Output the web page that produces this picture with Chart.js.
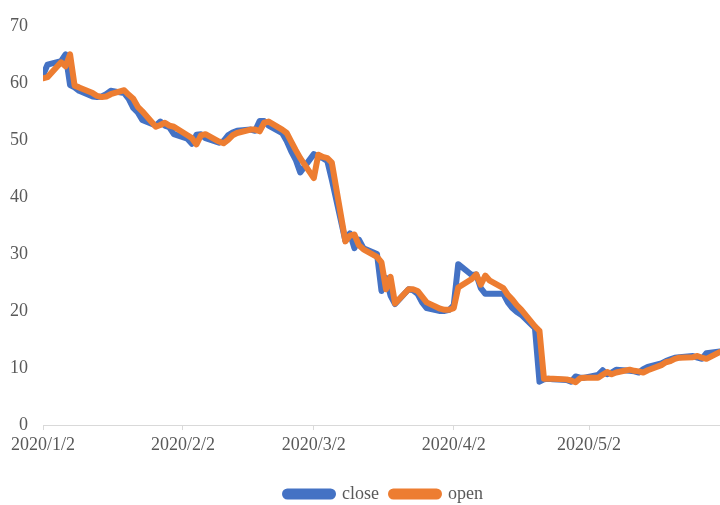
<!DOCTYPE html>
<html>
<head>
<meta charset="utf-8">
<script src="https://cdn.jsdelivr.net/npm/chart.js@4/dist/chart.umd.min.js"></script>
<style>
  html, body { margin: 0; padding: 0; background: #fff; }
  #wrap { width: 720px; height: 505px; }
</style>
</head>
<body>
<div id="wrap"><canvas id="chart-price"></canvas></div>
<script>
// trading days, counted in days since 2020/1/2
const tradeDays = [
  0, 1,
  4, 5, 6, 7, 8,
  11, 12, 13, 14, 15,
  18, 19, 20, 21, 22,
  25, 26, 27, 28, 29,
  32, 33, 34, 35, 36,
  39, 40, 41, 42, 43,
  46, 47, 48, 49, 50,
  53, 54, 55, 56, 57,
  60, 61, 62, 63, 64,
  67, 68, 69, 70, 71,
  74, 75, 76, 77, 78,
  81, 82, 83, 84, 85,
  88, 89, 90, 91, 92,
  95, 96, 97, 98, 99,
  102, 103, 104, 105, 106,
  109, 110, 111, 112, 113,
  116, 117, 118, 119, 120,
  123, 124, 125, 126, 127,
  130, 131, 132, 133, 134,
  137, 138, 139, 140, 141,
  144, 145, 146, 147, 150
];

const closeValues = [
  61.3, 63.2,
  63.8, 65.0, 59.6, 59.2, 58.6,
  57.6, 57.5, 57.6, 58.0, 58.6,
  58.2, 57.2, 55.6, 54.8, 53.5,
  52.5, 53.2, 52.5, 52.2, 51.0,
  50.2, 49.3, 50.9, 51.0, 50.3,
  49.5, 49.8, 50.8, 51.3, 51.6,
  51.8, 51.6, 53.3, 53.3, 52.5,
  51.2, 49.8, 48.0, 46.5, 44.3,
  47.5, 47.0, 46.8, 46.3, 43.0,
  32.3, 33.6, 31.0, 32.5, 31.0,
  30.0, 23.5, 25.8, 22.7, 21.2,
  23.8, 23.6, 23.0, 21.5, 20.5,
  20.0, 20.0, 20.2, 21.0, 28.2,
  26.3, 26.4, 24.0, 23.0, 23.0,
  23.0, 21.5, 20.5, 19.8, 19.3,
  17.0, 7.6, 8.0, 8.1, 8.0,
  7.9, 7.6, 8.5, 8.3, 8.3,
  8.8, 9.6, 8.9, 9.2, 9.7,
  9.5, 9.4, 9.2, 9.8, 10.2,
  10.8, 11.2, 11.5, 11.8, 11.9,
  12.1, 11.8, 11.6, 12.6, 12.9
];

const openValues = [
  60.8, 61.0,
  63.6, 62.9, 65.0, 59.5, 59.2,
  58.2, 57.7, 57.5, 57.6, 58.0,
  58.7, 57.9, 57.2, 55.8, 55.0,
  52.3, 52.6, 53.0, 52.5, 52.3,
  50.8, 50.3, 49.2, 50.8, 51.0,
  49.7, 49.4, 50.0, 50.8, 51.2,
  51.8, 51.8, 51.5, 53.0, 53.2,
  51.8, 51.2, 49.7, 48.2, 46.8,
  43.3, 47.4, 47.0, 46.8, 46.0,
  32.2, 33.2, 33.4, 31.5, 30.8,
  29.5, 28.5, 23.8, 26.0, 21.3,
  23.8, 23.8, 23.5, 22.5, 21.5,
  20.4, 20.2, 20.2, 20.5, 24.1,
  25.6, 26.4, 24.6, 26.2, 25.3,
  24.0, 22.8, 22.0, 21.0, 20.2,
  17.3, 16.5, 8.1, 8.1, 8.1,
  8.0, 7.8, 7.5, 8.2, 8.3,
  8.3, 8.8, 9.3, 8.9, 9.2,
  9.7, 9.5, 9.4, 9.2, 9.6,
  10.5, 11.0, 11.2, 11.6, 11.8,
  11.9, 12.1, 11.8, 11.6, 12.8
];

const tickDays = [0, 31, 60, 91, 121];
const tickLabels = ['2020/1/2', '2020/2/2', '2020/3/2', '2020/4/2', '2020/5/2'];
const seriesNames = ['close', 'open'];

const BLUE = '#4472C4';
const ORANGE = '#ED7D31';
const TEXT = '#595959';
const AXIS = '#D9D9D9';
const FONT = { family: '"Liberation Serif", "DejaVu Serif", serif', size: 18 };

const X_AXIS_HEIGHT = 48;
const LEGEND_HEIGHT = 32;
const LEGEND_SHIFT = 24;

function toPoints(values) {
  return tradeDays.map((d, i) => ({ x: d, y: values[i] }));
}

const lineStyle = {
  borderWidth: 6,
  pointRadius: 0,
  tension: 0,
  fill: false,
  borderJoinStyle: 'round',
  borderCapStyle: 'round'
};

// fixed legend band height, and the legend sits a little right of centre (under the plot)
const legendPlacePlugin = {
  id: 'legendPlace',
  beforeUpdate(chart) {
    const legend = chart.legend;
    if (!legend || legend._placed) return;
    const fit = legend.fit;
    legend.fit = function () {
      fit.call(this);
      this.height = LEGEND_HEIGHT;
    };
    const draw = legend.draw;
    legend.draw = function (...args) {
      const c = this.ctx;
      c.save();
      c.translate(LEGEND_SHIFT, 0);
      draw.apply(this, args);
      c.restore();
    };
    legend._placed = true;
  }
};

const ctx = document.getElementById('chart-price').getContext('2d');

new Chart(ctx, {
  type: 'line',
  data: {
    datasets: [
      { label: seriesNames[0], data: toPoints(closeValues), borderColor: BLUE, backgroundColor: BLUE, order: 2, ...lineStyle },
      { label: seriesNames[1], data: toPoints(openValues), borderColor: ORANGE, backgroundColor: ORANGE, order: 1, ...lineStyle }
    ]
  },
  options: {
    responsive: true,
    maintainAspectRatio: false,
    animation: false,
    layout: { padding: { top: 19, right: 0, left: 0, bottom: 0 } },
    plugins: {
      legend: {
        display: true,
        position: 'bottom',
        labels: {
          sort: (a, b) => a.datasetIndex - b.datasetIndex,
          boxWidth: 48,
          boxHeight: 5,
          useBorderRadius: true,
          borderRadius: 2.5,
          padding: 12,
          color: TEXT,
          font: FONT
        }
      },
      tooltip: { enabled: false }
    },
    scales: {
      x: {
        type: 'linear',
        min: 0,
        max: 150,
        afterBuildTicks: (scale) => { scale.ticks = tickDays.map(v => ({ value: v })); },
        afterFit: (scale) => { scale.height = X_AXIS_HEIGHT; },
        ticks: {
          autoSkip: false,
          maxRotation: 0,
          padding: 4,
          color: TEXT,
          font: FONT,
          callback: (value) => tickLabels[tickDays.indexOf(value)]
        },
        grid: { display: true, drawOnChartArea: false, drawTicks: true, tickLength: 5, color: AXIS },
        border: { display: true, color: AXIS, width: 1 }
      },
      y: {
        min: 0,
        max: 70,
        afterFit: (scale) => { scale.width = 43; },
        ticks: { stepSize: 10, padding: 15, color: TEXT, font: FONT },
        grid: { display: false, drawTicks: false },
        border: { display: false }
      }
    }
  },
  plugins: [legendPlacePlugin]
});
</script>
</body>
</html>
